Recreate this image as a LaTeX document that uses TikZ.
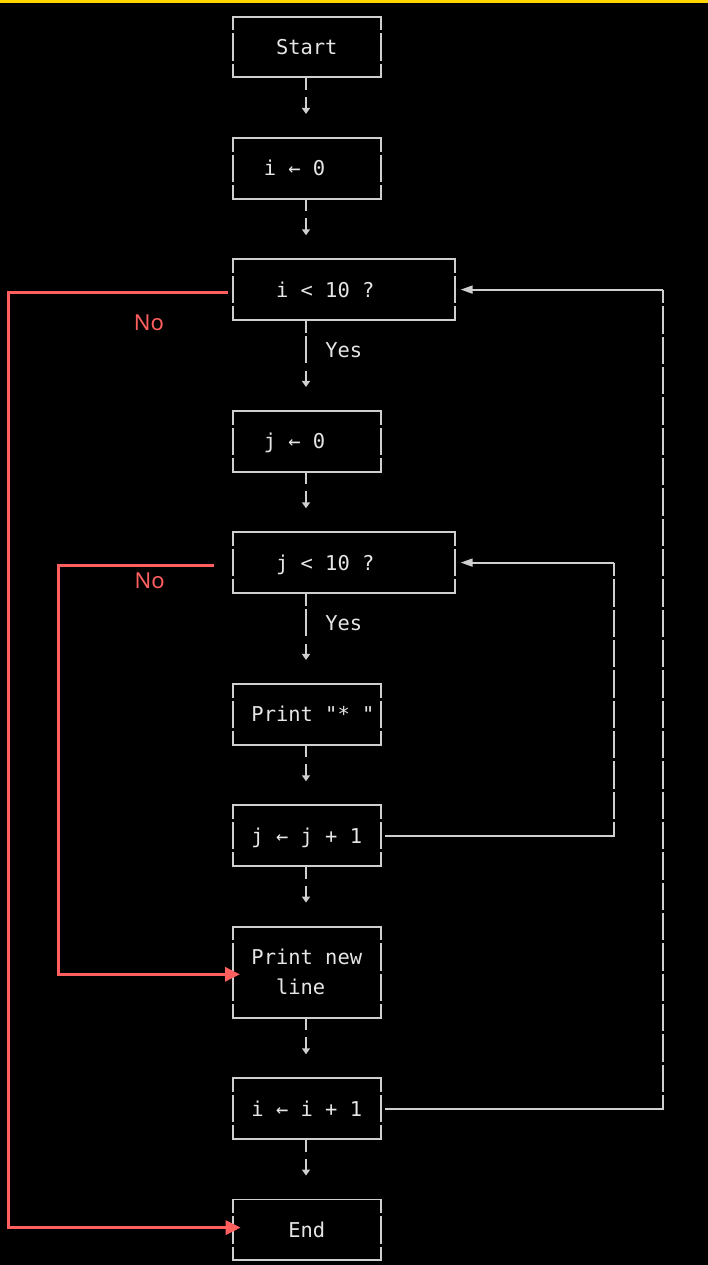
\documentclass[tikz,border=0pt]{standalone}
\usepackage{fontspec}
\newfontfamily\dvmono{DejaVu Sans Mono}
\newfontfamily\redlabelfont{Noto Sans}
\protected\def\boxmonofont{\dvmono\fontsize{20.43pt}{30.33pt}\selectfont}
\protected\def\cellsp{\hspace*{12.3pt}}
\usetikzlibrary{arrows.meta,calc}
\definecolor{boxline}{HTML}{CFCFCF}
\definecolor{boxtext}{HTML}{E6E6E6}
\definecolor{noRed}{HTML}{FF5F5F}
\definecolor{topbar}{HTML}{FFD600}
\begin{document}
\begin{tikzpicture}[x=1pt,y=-1pt,
  monotext/.style={font={\boxmonofont}, text=boxtext},
  flowbox/.style={monotext, minimum width=148pt, minimum height=60.67pt, inner xsep=6.15pt, inner ysep=0pt, outer sep=0pt, text width=135.7pt, align=left},
  oneline/.style={text height=18pt, text depth=3.2pt},
  widebox/.style={minimum width=222pt, text width=209.7pt},
  tallbox/.style={minimum height=91pt},
  edgeline/.style={draw=boxline, line width=1.8pt},
  rowdash/.style={dash pattern=on 27.33pt off 3pt, dash phase=13.66pt},
  stepflow/.style={edgeline, line width=1.6pt, dash pattern=on 12.7pt off 7pt on 200pt, shorten >=24pt, -{Triangle[length=6pt,width=8pt]}},
  yesflow/.style={edgeline, line width=1.6pt, dash pattern=on 13pt off 3pt on 27.5pt off 7.5pt on 200pt, shorten >=24pt, -{Triangle[length=6pt,width=8pt]}},
  yeslabel/.style={monotext, anchor=west, xshift=18.45pt, inner sep=0pt},
  looptip/.style={-{Triangle[length=12pt,width=8pt]}, shorten >=5.7pt},
  redpath/.style={draw=noRed, line width=3pt, -{Triangle[length=15pt,width=14pt]}},
  nolabel/.style={font=\redlabelfont\fontsize{22pt}{26pt}\selectfont, text=noRed, inner sep=0pt}
]
\fill[black] (0,0) rectangle (708,1265);
\fill[topbar] (0,0) rectangle (708,2.7);
\useasboundingbox (0,0) rectangle (708,1265);

% boxes
\node[flowbox,oneline] (start) at (307,47) {\hspace*{36.9pt}Start};
\node[flowbox,oneline] (i0) at (307,168.3) {\hspace*{24.6pt}i\cellsp ←\cellsp 0};
\node[flowbox,oneline,widebox] (icond) at (344,289.6) {\hspace*{36.9pt}i\cellsp <\cellsp 10\cellsp ?};
\node[flowbox,oneline] (j0) at (307,441.3) {\hspace*{24.6pt}j\cellsp ←\cellsp 0};
\node[flowbox,oneline,widebox] (jcond) at (344,562.6) {\hspace*{36.9pt}j\cellsp <\cellsp 10\cellsp ?};
\node[flowbox,oneline] (print) at (307,714.3) {\hspace*{12.3pt}Print\cellsp "*\cellsp "};
\node[flowbox,oneline] (jinc) at (307,835.6) {\hspace*{12.3pt}j\cellsp ←\cellsp j\cellsp +\cellsp 1};
\node[flowbox,tallbox] (nl) at (307,972.1) {\hspace*{12.3pt}Print\cellsp new\\\hspace*{36.9pt}line};
\node[flowbox,oneline] (iinc) at (307,1108.6) {\hspace*{12.3pt}i\cellsp ←\cellsp i\cellsp +\cellsp 1};
\node[flowbox,oneline] (endn) at (307,1229.9) {\hspace*{49.2pt}End};

\foreach \n in {start,i0,icond,j0,jcond,print,jinc,nl,iinc,endn}{
  \draw[edgeline,line cap=rect] (\n.north west) -- (\n.north east) (\n.south west) -- (\n.south east);
  \draw[edgeline,rowdash] (\n.north west) -- (\n.south west) (\n.north east) -- (\n.south east);
}

% main flow
\draw[stepflow] ($(start.south west)+(73,0)$) -- ($(i0.north west)+(73,0)$);
\draw[stepflow] ($(i0.south west)+(73,0)$) -- ($(icond.north west)+(73,0)$);
\draw[yesflow] ($(icond.south west)+(73,0)$) -- node[yeslabel,pos=0.3345] {Yes} ($(j0.north west)+(73,0)$);
\draw[stepflow] ($(j0.south west)+(73,0)$) -- ($(jcond.north west)+(73,0)$);
\draw[yesflow] ($(jcond.south west)+(73,0)$) -- node[yeslabel,pos=0.3345] {Yes} ($(print.north west)+(73,0)$);
\draw[stepflow] ($(print.south west)+(73,0)$) -- ($(jinc.north west)+(73,0)$);
\draw[stepflow] ($(jinc.south west)+(73,0)$) -- ($(nl.north west)+(73,0)$);
\draw[stepflow] ($(nl.south west)+(73,0)$) -- ($(iinc.north west)+(73,0)$);
\draw[stepflow] ($(iinc.south west)+(73,0)$) -- ($(endn.north west)+(73,0)$);

% inner loop back
\path (jinc.east) ++(233,0) coordinate (jlb);
\path (jcond.east) ++(159,0) coordinate (jlt);
\draw[edgeline,line cap=rect] ($(jinc.east)+(5,0)$) -- (jlb);
\draw[edgeline,rowdash] (jlt) -- (jlb);
\draw[edgeline,looptip] (jlt) -- (jcond.east);

% outer loop back
\path (iinc.east) ++(282,0) coordinate (ilb);
\path (icond.east) ++(208,0) coordinate (ilt);
\draw[edgeline,line cap=rect] ($(iinc.east)+(5,0)$) -- (ilb);
\draw[edgeline,rowdash] (ilt) -- (ilb);
\draw[edgeline,looptip] (ilt) -- (icond.east);

% No branches
\draw[redpath] ($(icond.west)+(-5,3)$) -| ($(endn.west)+(-224.5,-2.3)$) -- ($(endn.west)+(7.7,-2.3)$);
\draw[redpath] ($(jcond.west)+(-19,3)$) -| ($(nl.west)+(-174.3,2.2)$) -- ($(nl.west)+(7,2.2)$);
\node[nolabel] (no1) at ($(icond.west)+(-84,33.4)$) {No};
\node[nolabel] (no2) at ($(jcond.west)+(-83.3,18.4)$) {No};
\end{tikzpicture}
\end{document}
